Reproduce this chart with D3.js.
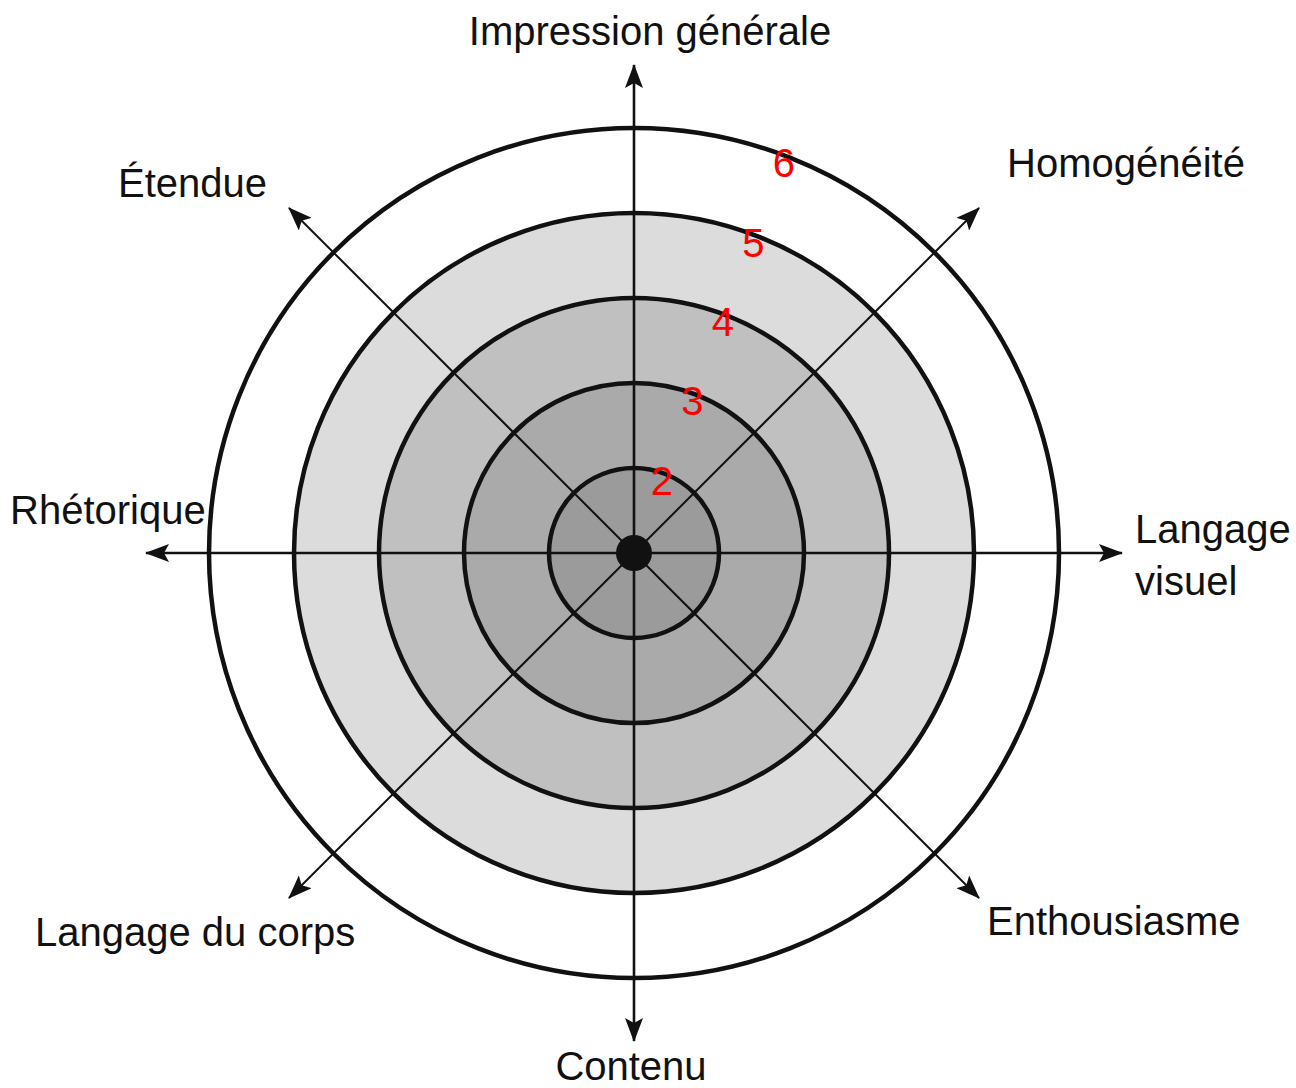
<!DOCTYPE html>
<html>
<head>
<meta charset="utf-8">
<script src="https://cdn.jsdelivr.net/npm/d3@7"></script>
<style>
  html, body { margin: 0; padding: 0; background: #fff; }
  svg { display: block; }
  text { font-family: "Liberation Sans", Arial, sans-serif; }
</style>
</head>
<body>
<svg id="chart" width="1296" height="1088"></svg>
<script>
// ---- data ----
const axisNames = ["Impression générale", "Homogénéité", "Langage\nvisuel", "Enthousiasme",
                   "Contenu", "Langage du corps", "Rhétorique", "Étendue"];
const axisAngles = [90, 45, 0, -45, -90, -135, 180, 135]; // degrees, counter-clockwise from east
const levels = [2, 3, 4, 5, 6];
const levelLabels = ["2", "3", "4", "5", "6"];
const bandFills = ["#9b9b9b", "#aaaaaa", "#c0c0c0", "#dcdcdc", "#ffffff"]; // inside ring 2,3,4,5,6

// ---- layout ----
const cx = 634, cy = 553;
const r = d3.scaleLinear().domain([1, 6]).range([0, 425]);
const arrowLen = 488;

const svg = d3.select("#chart");
const defs = svg.append("defs");
defs.append("marker")
  .attr("id", "arrow")
  .attr("viewBox", "0 0 24 18")
  .attr("refX", 23).attr("refY", 9)
  .attr("markerWidth", 24).attr("markerHeight", 18)
  .attr("markerUnits", "userSpaceOnUse")
  .attr("orient", "auto")
  .append("path")
  .attr("d", "M0,0 L24,9 L0,18 L5,9 Z")
  .attr("fill", "#111");

const g = svg.append("g").attr("transform", `translate(${cx},${cy})`);

// filled bands, largest first
const bandData = levels.map((lv, i) => ({ lv, fill: bandFills[i] })).reverse();
g.selectAll("circle.band").data(bandData).join("circle")
  .attr("class", "band")
  .attr("r", d => r(d.lv))
  .attr("fill", d => d.fill);

// axes
const axisData = axisNames.map((name, i) => ({ name, a: axisAngles[i] * Math.PI / 180, diag: axisAngles[i] % 90 !== 0 }));
g.selectAll("line.axis").data(axisData).join("line")
  .attr("class", "axis")
  .attr("x1", 0).attr("y1", 0)
  .attr("x2", d => arrowLen * Math.cos(d.a))
  .attr("y2", d => -arrowLen * Math.sin(d.a))
  .attr("stroke", "#111")
  .attr("stroke-width", d => d.diag ? 2 : 2.6)
  .attr("marker-end", "url(#arrow)");

// ring outlines
g.selectAll("circle.ring").data(levels).join("circle")
  .attr("class", "ring")
  .attr("r", d => r(d))
  .attr("fill", "none")
  .attr("stroke", "#111")
  .attr("stroke-width", 4.5);

// centre dot
g.append("circle").attr("r", 18).attr("fill", "#111");

// level labels
const labAng = (90 - 21) * Math.PI / 180;
g.selectAll("text.lvl").data(levels).join("text")
  .attr("class", "lvl")
  .attr("x", d => (r(d) - 7) * Math.cos(labAng))
  .attr("y", d => -(r(d) - 7) * Math.sin(labAng))
  .attr("text-anchor", "middle")
  .attr("dy", "0.36em")
  .attr("fill", "#ff0000")
  .attr("font-size", 40)
  .text((d, i) => levelLabels[i]);

// axis labels (placement per axis)
const labelPos = {
  "Impression générale": { x: 650, y: 45, anchor: "middle" },
  "Homogénéité": { x: 1007, y: 177, anchor: "start" },
  "Langage\nvisuel": { x: 1135, y: 543, anchor: "start" },
  "Enthousiasme": { x: 987, y: 935, anchor: "start" },
  "Contenu": { x: 631, y: 1080, anchor: "middle" },
  "Langage du corps": { x: 35, y: 946, anchor: "start" },
  "Rhétorique": { x: 10, y: 524, anchor: "start" },
  "Étendue": { x: 118, y: 197, anchor: "start" }
};
const lbl = svg.selectAll("text.ax").data(axisNames).join("text")
  .attr("class", "ax")
  .attr("x", d => labelPos[d].x)
  .attr("y", d => labelPos[d].y)
  .attr("text-anchor", d => labelPos[d].anchor)
  .attr("font-size", 40)
  .attr("fill", "#111");
lbl.each(function(d) {
  const parts = d.split("\n");
  const t = d3.select(this);
  parts.forEach((p, i) => {
    t.append("tspan").attr("x", labelPos[d].x).attr("dy", i === 0 ? 0 : 52).text(p);
  });
});
</script>
</body>
</html>
